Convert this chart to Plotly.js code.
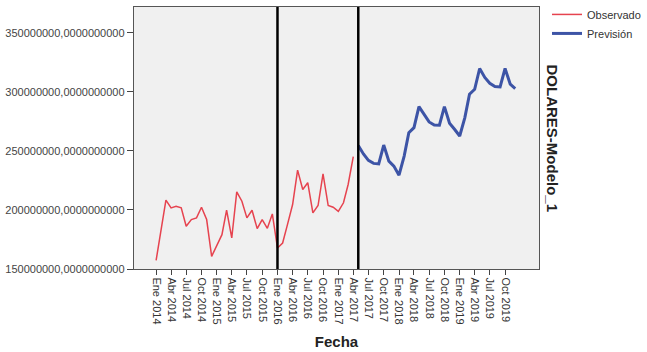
<!DOCTYPE html>
<html>
<head>
<meta charset="utf-8">
<script src="https://cdn.plot.ly/plotly-3.0.1.min.js"></script>
<style>html,body{margin:0;padding:0;background:#fff;}#chart{width:647px;height:352px;}</style>
</head>
<body>
<div id="chart"></div>
<script>
// Observed series: monthly, Ene 2014 .. Abr 2017 (millions)
const observedStart = [2014, 1];
const observedValues = [
  157.3, 183.6, 208.3, 201.8, 203.2, 201.8, 186.2, 191.9, 193.3, 202.3, 191.9, 160.7,
  170.6, 179.1, 199.8, 176.3, 215.4, 207.4, 193.3, 199.8, 184.2, 191.9, 184.5, 196.7,
  167.8, 172.0, 187.6, 204.6, 233.8, 217.4, 223.1, 197.6, 203.8, 230.7, 203.8, 202.3,
  198.9, 206.1, 221.6, 245.2
];
// Forecast series: monthly, May 2017 .. Dic 2019 (millions)
const forecastStart = [2017, 5];
const forecastValues = [
  254.7, 247.5, 242.0, 239.5, 239.0, 255.0, 241.4, 237.2,
  229.5, 245.7, 265.5, 269.8, 287.6, 281.1, 274.6, 272.0, 271.8, 287.6, 273.5, 268.4,
  262.7, 278.3, 298.1, 302.3, 319.9, 312.3, 307.4, 304.6, 304.3, 319.9, 306.6, 302.9
];
const referenceDates = ['2016-01-01', '2017-05-01'];
const tickMonths = ['Ene', 'Abr', 'Jul', 'Oct'];
const tickYears = [2014, 2015, 2016, 2017, 2018, 2019];
const yTickValues = [150000000, 200000000, 250000000, 300000000, 350000000];
const seriesNames = ['Observado', 'Previsión'];

function monthDates(start, n) {
  const out = [];
  let y = start[0], m = start[1];
  for (let i = 0; i < n; i++) {
    out.push(y + '-' + String(m).padStart(2, '0') + '-01');
    m++; if (m > 12) { m = 1; y++; }
  }
  return out;
}
const tickVals = [], tickText = [];
tickYears.forEach(yr => tickMonths.forEach((mn, i) => {
  tickVals.push(yr + '-' + String(1 + 3 * i).padStart(2, '0') + '-01');
  tickText.push(mn + ' ' + yr);
}));
const yTickText = yTickValues.map(v => v + ',0000000000');

const traces = [
  {x: monthDates(observedStart, observedValues.length), y: observedValues.map(v => v * 1e6),
   type: 'scatter', mode: 'lines', name: seriesNames[0],
   line: {color: '#e6434f', width: 1.5}},
  {x: monthDates(forecastStart, forecastValues.length), y: forecastValues.map(v => v * 1e6),
   type: 'scatter', mode: 'lines', name: seriesNames[1],
   line: {color: '#3d54a6', width: 3}}
];

const font = 'Liberation Sans, Arial, sans-serif';
const layout = {
  width: 647, height: 352,
  margin: {l: 134, r: 108, t: 7, b: 83, autoexpand: false},
  paper_bgcolor: '#ffffff',
  plot_bgcolor: '#f0f0f0',
  font: {family: font, size: 11, color: '#333'},
  showlegend: true,
  legend: {x: 1.0198, y: 1.027, xanchor: 'left', yanchor: 'top', font: {size: 11, color: '#333'},
           bgcolor: 'rgba(0,0,0,0)', tracegroupgap: 0},
  xaxis: {
    type: 'date', range: ['2013-08-21', '2020-04-22'], automargin: false,
    tickvals: tickVals, ticktext: tickText, tickangle: 90,
    ticks: 'outside', ticklen: 5, tickcolor: '#444',
    showgrid: false, zeroline: false,
    showline: true, linecolor: '#555', linewidth: 1.2, mirror: true,
    tickfont: {size: 11, color: '#333'},
    title: {text: '<b>Fecha</b>', font: {size: 15, color: '#222'}, standoff: 13}
  },
  yaxis: {
    range: [150000000, 372000000], automargin: false,
    tickvals: yTickValues, ticktext: yTickText,
    ticks: 'outside', ticklen: 6, tickcolor: '#444',
    showgrid: false, zeroline: false,
    showline: true, linecolor: '#555', linewidth: 1.2, mirror: true,
    tickfont: {size: 11, color: '#444'}
  },
  shapes: referenceDates.map(d => ({
    type: 'line', xref: 'x', yref: 'paper', x0: d, x1: d, y0: 0, y1: 1,
    line: {color: '#000', width: 2.5}
  })),
  annotations: [{
    text: '<b>DOLARES-Modelo_1</b>', textangle: 90,
    xref: 'paper', yref: 'paper', x: 1.0, y: 0.5, xanchor: 'left', yanchor: 'middle',
    xshift: 3, showarrow: false, font: {size: 15, color: '#222'}
  }]
};

Plotly.newPlot('chart', traces, layout, {displayModeBar: false, staticPlot: true});
</script>
</body>
</html>
